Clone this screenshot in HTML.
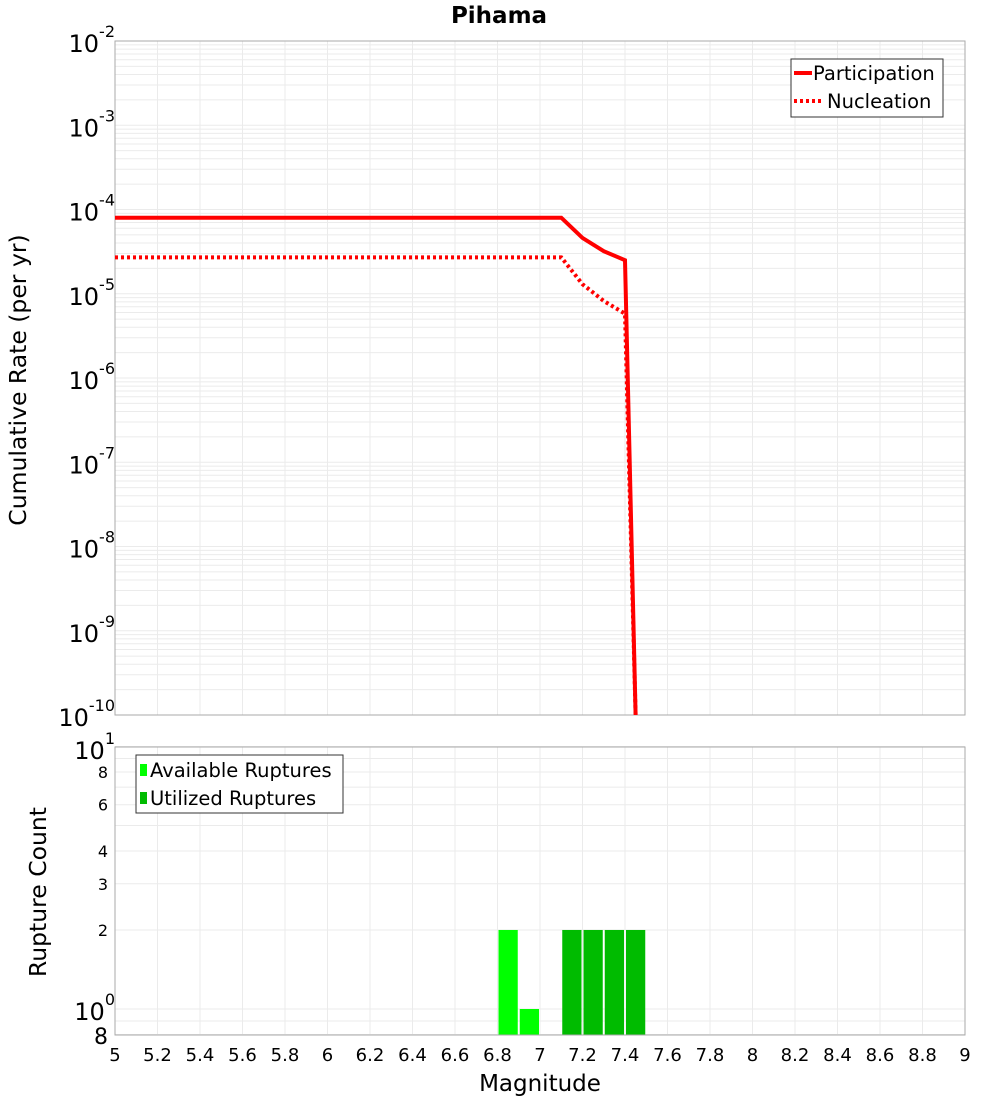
<!DOCTYPE html>
<html><head><meta charset="utf-8"><style>body{margin:0;background:#fff}svg{display:block}</style></head>
<body>
<svg id="s" width="1000" height="1100" xmlns="http://www.w3.org/2000/svg" font-family="'DejaVu Sans', 'Liberation Sans', sans-serif">
</svg>
<script>
const s=document.getElementById('s');let h='';
const X=m=>115+(m-5)*212.5;
const Y1=v=>41+(-2-Math.log10(v))*84.25;
const Y2=v=>1009-Math.log10(v)*262.5;
h+='<rect x="115" y="41" width="850" height="674" fill="#fff"/>';
h+='<rect x="115" y="747" width="850" height="288" fill="#fff"/>';
for(let i=0;i<=20;i++){const x=X(5+i*0.2);h+=`<line x1="${x}" y1="41" x2="${x}" y2="715" stroke="#ebebeb"/><line x1="${x}" y1="747" x2="${x}" y2="1035" stroke="#ebebeb"/>`;}
for(let e=-10;e<-2;e++)for(let k=1;k<10;k++){const y=Y1(k*Math.pow(10,e));h+=`<line x1="115" y1="${y}" x2="965" y2="${y}" stroke="#ebebeb"/>`;}
for(const v of [0.8,0.9,1,2,3,4,5,6,7,8,9,10]){const y=Y2(v);h+=`<line x1="115" y1="${y}" x2="965" y2="${y}" stroke="#ebebeb"/>`;}
const bars=[[6.8,2,'#00ff00'],[6.9,1,'#00ff00'],[7.1,2,'#00bb00'],[7.2,2,'#00bb00'],[7.3,2,'#00bb00'],[7.4,2,'#00bb00']];
for(const [m,c,col] of bars){const x=X(m)+1,y=Y2(c);h+=`<rect x="${x}" y="${y}" width="${212.5*0.1-2}" height="${1035-y}" fill="${col}"/>`;}
h+='<rect x="115" y="41" width="850" height="674" fill="none" stroke="#aaa"/>';
h+='<rect x="115" y="747" width="850" height="288" fill="none" stroke="#aaa"/>';
const P=[[5,8e-5],[7.1,8e-5],[7.2,4.6e-5],[7.3,3.2e-5],[7.4,2.5e-5],[7.45,1e-10]];
const N=[[5,2.7e-5],[7.1,2.7e-5],[7.2,1.3e-5],[7.3,8.2e-6],[7.4,5.8e-6],[7.45,1e-10]];
const pts=a=>a.map(p=>X(p[0]).toFixed(1)+','+Y1(p[1]).toFixed(1)).join(' ');
h+=`<polyline points="${pts(P)}" fill="none" stroke="#f00" stroke-width="4"/>`;
h+=`<polyline points="${pts(N)}" fill="none" stroke="#f00" stroke-width="4" stroke-dasharray="3,3"/>`;
for(let e=-2;e>=-10;e--){const y=Y1(Math.pow(10,e));h+=`<text x="115" y="${y+11}" font-size="24" text-anchor="end">10<tspan font-size="16" dy="-15">${e}</tspan></text>`;}
h+=`<text x="115" y="759" font-size="24" text-anchor="end">10<tspan font-size="16" dy="-15">1</tspan></text>`;
h+=`<text x="115" y="1020" font-size="24" text-anchor="end">10<tspan font-size="16" dy="-15">0</tspan></text>`;
for(const v of [8,6,4,3,2]){h+=`<text x="108" y="${Y2(v)+6}" font-size="16" text-anchor="end">${v}</text>`;}
h+=`<text x="108" y="1044" font-size="22" text-anchor="end">8</text>`;
for(let i=0;i<=20;i++){const m=5+i*0.2;let t=(Math.round(m*10)/10).toString();h+=`<text x="${X(m)}" y="1061" font-size="18" text-anchor="middle">${t}</text>`;}
h+='<text x="540" y="1091" font-size="23" text-anchor="middle">Magnitude</text>';
h+='<text x="499" y="23" font-size="23" font-weight="bold" text-anchor="middle">Pihama</text>';
h+='<text transform="translate(26,380) rotate(-90)" font-size="23.5" text-anchor="middle">Cumulative Rate (per yr)</text>';
h+='<text transform="translate(46,892) rotate(-90)" font-size="23.5" text-anchor="middle">Rupture Count</text>';
h+='<rect x="791" y="59" width="152" height="58" fill="#fff" stroke="#333"/>';
h+='<line x1="794" y1="73" x2="812" y2="73" stroke="#f00" stroke-width="4"/><text x="813" y="80" font-size="19.5">Participation</text>';
h+='<line x1="794" y1="101" x2="822" y2="101" stroke="#f00" stroke-width="4" stroke-dasharray="3,3"/><text x="827" y="108" font-size="19.5">Nucleation</text>';
h+='<rect x="136" y="755" width="207" height="58" fill="#fff" stroke="#333"/>';
h+='<rect x="140" y="764" width="7" height="12" fill="#00ff00"/><text x="150" y="777" font-size="19.5">Available Ruptures</text>';
h+='<rect x="140" y="792" width="7" height="12" fill="#00bb00"/><text x="150" y="805" font-size="19.5">Utilized Ruptures</text>';
s.innerHTML=h;
</script>
</body></html>
